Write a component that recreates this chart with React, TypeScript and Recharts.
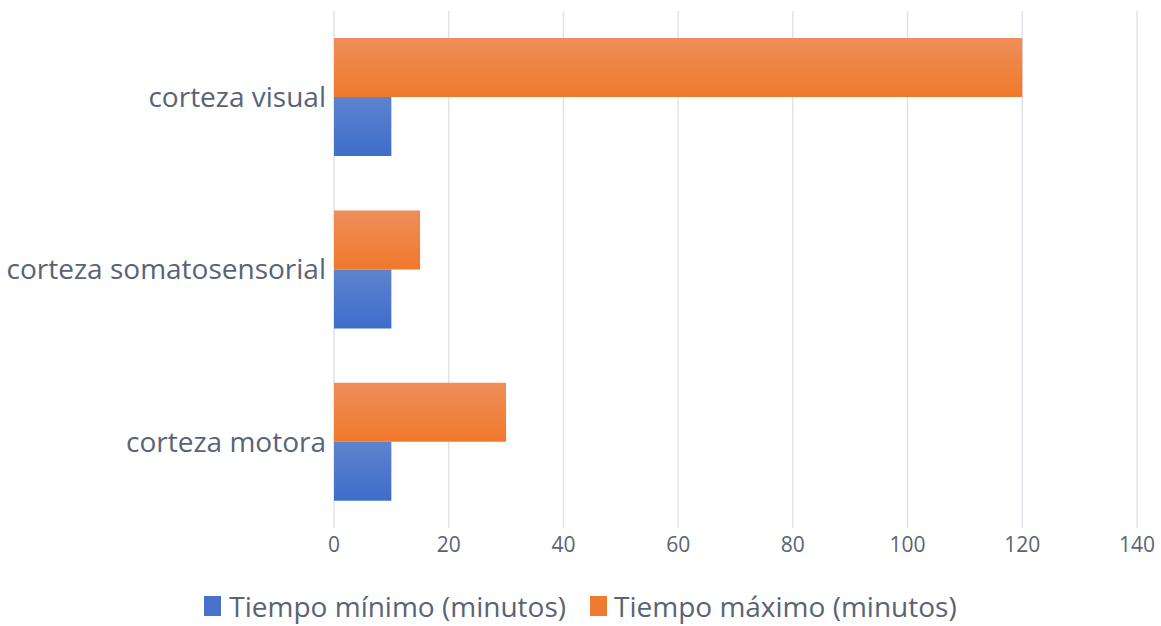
import { BarChart, Bar, XAxis, YAxis, CartesianGrid } from 'recharts';

const categories = ['corteza visual', 'corteza somatosensorial', 'corteza motora'];
const tiempoMinimo = [10, 10, 10];
const tiempoMaximo = [120, 15, 30];
const xTicks = [0, 20, 40, 60, 80, 100, 120, 140];

const data = categories.map((name, i) => ({
  name,
  minimo: tiempoMinimo[i],
  maximo: tiempoMaximo[i],
}));

const TEXT = '#596377';
const FONT = '"Open Sans", "Noto Sans", sans-serif';

export default function App() {
  return (
    <div style={{ position: 'absolute', left: 0, top: 0, width: 1161, height: 626, background: '#fff', fontFamily: FONT }}>
      <BarChart
        width={1161}
        height={566}
        data={data}
        layout="vertical"
        margin={{ top: 11, right: 24, bottom: 0, left: 0 }}
        barCategoryGap="15.7%"
        barGap={0}
      >
        <defs>
          <linearGradient id="gOrange" x1="0" y1="0" x2="0" y2="1">
            <stop offset="0%" stopColor="#EE8E59" />
            <stop offset="100%" stopColor="#F0792B" />
          </linearGradient>
          <linearGradient id="gBlue" x1="0" y1="0" x2="0" y2="1">
            <stop offset="0%" stopColor="#5D83CE" />
            <stop offset="100%" stopColor="#3E6DCA" />
          </linearGradient>
        </defs>
        <CartesianGrid horizontal={false} stroke="#DEE3EA" strokeWidth={1.5} />
        <XAxis
          type="number"
          domain={[0, 140]}
          ticks={xTicks}
          axisLine={false}
          tickLine={false}
          tick={{ fill: TEXT, fontSize: 21, fontFamily: FONT }}
          tickMargin={3}
          height={38}
          interval={0}
        />
        <YAxis
          type="category"
          dataKey="name"
          width={334}
          axisLine={false}
          tickLine={false}
          tick={{ fill: TEXT, fontSize: 28, fontFamily: FONT }}
          tickMargin={2}
        />
        <Bar dataKey="maximo" fill="url(#gOrange)" isAnimationActive={false} />
        <Bar dataKey="minimo" fill="url(#gBlue)" isAnimationActive={false} />
      </BarChart>
      <div
        style={{
          position: 'absolute',
          top: 586,
          left: 0,
          width: 1161,
          height: 40,
          display: 'flex',
          justifyContent: 'center',
          alignItems: 'center',
          fontSize: 28,
          color: TEXT,
          gap: 24,
          boxSizing: 'border-box',
        }}
      >
        <span style={{ display: 'flex', alignItems: 'center', gap: 8 }}>
          <span style={{ width: 17, height: 20, background: '#4672C9', display: 'inline-block' }} />
          Tiempo mínimo (minutos)
        </span>
        <span style={{ display: 'flex', alignItems: 'center', gap: 7 }}>
          <span style={{ width: 17, height: 20, background: '#EE7B30', display: 'inline-block' }} />
          Tiempo máximo (minutos)
        </span>
      </div>
    </div>
  );
}
